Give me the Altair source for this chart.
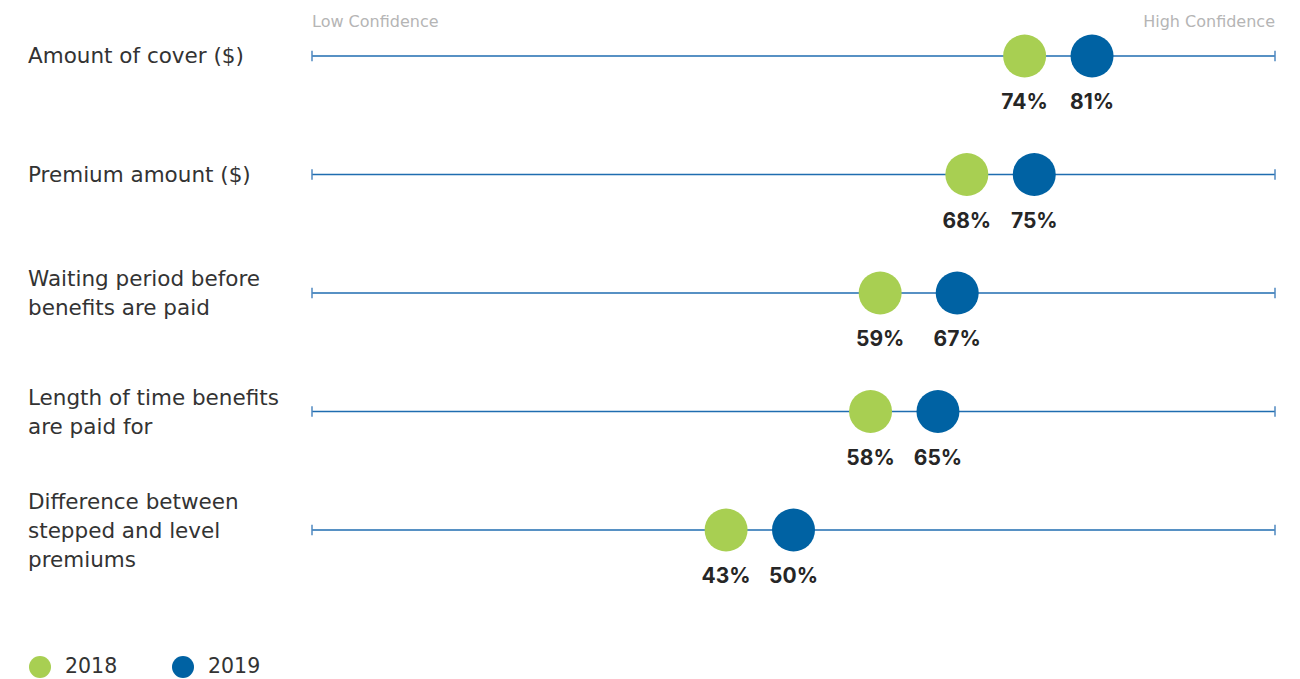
import altair as alt
import pandas as pd

categories = [
    "Amount of cover ($)",
    "Premium amount ($)",
    "Waiting period before\nbenefits are paid",
    "Length of time benefits\nare paid for",
    "Difference between\nstepped and level\npremiums",
]
values_2018 = [74, 68, 59, 58, 43]
values_2019 = [81, 75, 67, 65, 50]
years = ["2018", "2019"]
colors = ["#a8cf52", "#0062a3"]
scale_min, scale_max = 0, 100
end_labels = ["Low Confidence", "High Confidence"]

FONT = "Inter"
LABEL_FONT = "DejaVu Sans"

rows = []
for c, a, b in zip(categories, values_2018, values_2019):
    rows.append({"category": c, "year": "2018", "value": a, "label": f"{a}%"})
    rows.append({"category": c, "year": "2019", "value": b, "label": f"{b}%"})
points = pd.DataFrame(rows)
lines = pd.DataFrame({"category": categories, "start": scale_min, "end": scale_max,
                      "nlines": [c.count("\n") + 1 for c in categories]})
ends = pd.DataFrame({"category": categories * 2,
                     "pos": [scale_min] * len(categories) + [scale_max] * len(categories)})
heads = pd.DataFrame({"category": [categories[0]] * 2, "pos": [scale_min, scale_max],
                      "text": end_labels})

x_scale = alt.Scale(domain=[scale_min, scale_max], nice=False, zero=False)
y_scale = alt.Scale(domain=categories, type="point", padding=0)
y_enc = alt.Y("category:N", scale=y_scale, axis=None, sort=categories)

line = alt.Chart(lines).mark_rule(color="#1f6db0", strokeWidth=1.5).encode(
    x=alt.X("start:Q", scale=x_scale, axis=None), x2="end:Q", y=y_enc)

ticks = alt.Chart(ends).mark_point(shape="M0,-1L0,1", size=110, filled=False,
                                   stroke="#4f89c0", strokeWidth=1.5, opacity=1).encode(
    x=alt.X("pos:Q", scale=x_scale), y=y_enc)

dots = alt.Chart(points).mark_point(filled=True, opacity=1, size=1849, shape="circle").encode(
    x=alt.X("value:Q", scale=x_scale),
    y=y_enc,
    color=alt.Color("year:N", scale=alt.Scale(domain=years, range=colors),
                    legend=alt.Legend(title=None, orient="none", legendX=-283, legendY=600,
                                      direction="horizontal", symbolSize=484, symbolType="circle",
                                      symbolStrokeWidth=0, labelFontSize=20.5, labelFont=LABEL_FONT,
                                      labelColor="#333333", labelOffset=14, columnPadding=54,
                                      padding=0)),
)

pct = alt.Chart(points).mark_text(font=FONT, fontSize=21, fontWeight="bold", color="#262626",
                                  dy=47, baseline="middle").encode(
    x=alt.X("value:Q", scale=x_scale), y=y_enc, text="label:N")

def cat_layer(n, dy):
    return alt.Chart(lines).transform_filter(alt.datum.nlines == n).mark_text(
        font=LABEL_FONT, fontSize=21.5, color="#333333", align="left", baseline="middle",
        lineBreak="\n", lineHeight=29, dy=dy).encode(
        x=alt.value(-284), y=y_enc, text="category:N")

cat1 = cat_layer(1, 1)
cat2 = cat_layer(2, -13)
cat3 = cat_layer(3, -27)

head_left = alt.Chart(heads.iloc[[0]]).mark_text(font=LABEL_FONT, fontSize=16, color="#b5b5b5",
                                                 align="left", dy=-34, baseline="middle").encode(
    x=alt.X("pos:Q", scale=x_scale), y=y_enc, text="text:N")
head_right = alt.Chart(heads.iloc[[1]]).mark_text(font=LABEL_FONT, fontSize=16, color="#b5b5b5",
                                                  align="right", dy=-34, baseline="middle").encode(
    x=alt.X("pos:Q", scale=x_scale), y=y_enc, text="text:N")

chart = alt.layer(line, ticks, dots, pct, cat1, cat2, cat3, head_left, head_right).properties(
    width=963, height=474,
    autosize=alt.AutoSizeParams(type="none"),
    padding={"left": 304, "top": 48, "right": 17, "bottom": 152},
).configure(font=FONT).configure_view(stroke=None)

chart.save("out.html", embed_options={"renderer": "svg", "actions": False})
